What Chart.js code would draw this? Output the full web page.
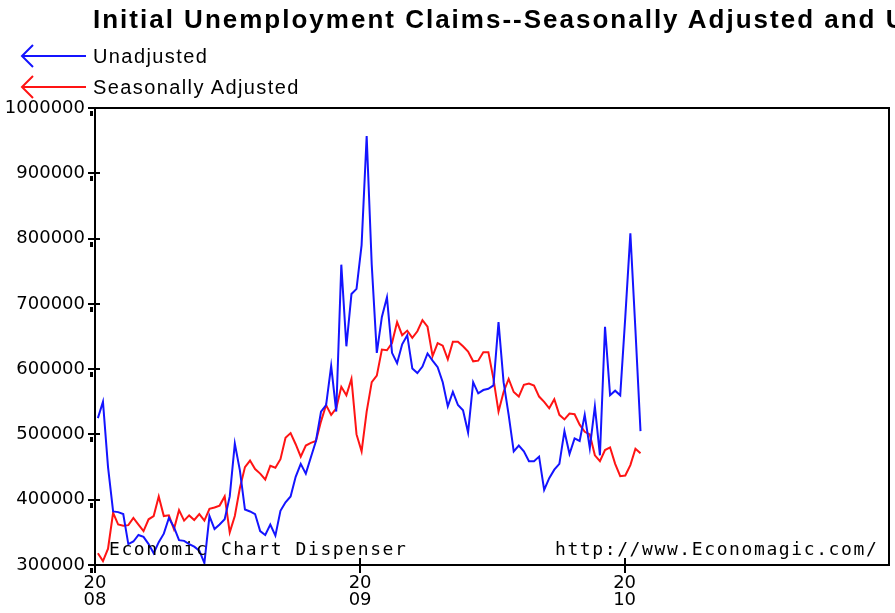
<!DOCTYPE html>
<html lang="en">
<head>
<meta charset="UTF-8">
<title>Initial Unemployment Claims--Seasonally Adjusted and Unadjusted</title>
<script src="https://cdn.jsdelivr.net/npm/chart.js"></script>
<style>
    body { margin: 0; background: #fff; overflow: hidden; }
    #wrap { position: relative; width: 895px; height: 613px; overflow: hidden; }
    #chart { position: absolute; left: 0; top: 0; }
    .title { position: absolute; left: 93px; top: 4px; font: bold 26px "Liberation Sans", Arial, sans-serif; letter-spacing: 2px; white-space: nowrap; color: #000; }
    .legend { position: absolute; left: 93px; font: 20px "Liberation Sans", Arial, sans-serif; letter-spacing: 1.4px; white-space: nowrap; color: #000; }
    .mark { position: absolute; top: 538px; font: 18px "DejaVu Sans Mono", monospace; letter-spacing: 1.6px; white-space: nowrap; color: #000; }
</style>
</head>
<body>
<div id="wrap">
    <canvas id="chart" width="895" height="613"></canvas>
    <div class="title">Initial Unemployment Claims--Seasonally Adjusted and Unadjusted</div>
    <div class="legend" style="top:45px">Unadjusted</div>
    <div class="legend" style="top:76px">Seasonally Adjusted</div>
    <div class="mark" style="left:109px">Economic Chart Dispenser</div>
    <div class="mark" style="left:555px">http://www.Economagic.com/</div>
</div>
<script>
// weekly initial claims, week ending Jan 5 2008 .. Jan 23 2010
const unadjusted = [
    525000, 550000, 450000, 382000, 381000, 378000, 332000, 336000, 346000, 343000,
    332000, 318000, 335000, 348000, 372000, 358000, 338000, 337000, 332000, 328000,
    322000, 303000, 375000, 355000, 362000, 370000, 405000, 486000, 445000, 385000,
    382000, 378000, 352000, 346000, 362000, 345000, 383000, 396000, 405000, 435000,
    455000, 440000, 465000, 490000, 535000, 545000, 605000, 535000, 760000, 635000,
    715000, 723000, 790000, 957000, 760000, 625000, 680000, 710000, 625000, 609000,
    638000, 652000, 601000, 594000, 604000, 624000, 613000, 603000, 580000, 543000,
    565000, 545000, 537000, 503000, 580000, 563000, 568000, 570000, 575000, 672000,
    580000, 530000, 474000, 483000, 474000, 459000, 459000, 466000, 415000, 433000,
    446000, 455000, 505000, 470000, 494000, 490000, 530000, 479000, 543000, 468000,
    665000, 560000, 567000, 560000, 680000, 808000, 660000, 505000
];
const adjusted = [
    318000, 306000, 325000, 380000, 362000, 360000, 361000, 372000, 362000, 352000,
    370000, 375000, 405000, 375000, 376000, 355000, 384000, 368000, 376000, 369000,
    378000, 368000, 386000, 388000, 391000, 405000, 350000, 375000, 418000, 450000,
    460000, 447000, 440000, 431000, 452000, 449000, 462000, 495000, 502000, 485000,
    466000, 483000, 487000, 490000, 520000, 545000, 530000, 540000, 573000, 560000,
    585000, 500000, 474000, 535000, 580000, 590000, 630000, 629000, 640000, 672000,
    652000, 659000, 648000, 658000, 675000, 665000, 620000, 640000, 636000, 615000,
    642000, 642000, 635000, 627000, 612000, 613000, 626000, 626000, 585000, 535000,
    565000, 585000, 565000, 558000, 576000, 578000, 575000, 558000, 550000, 540000,
    554000, 530000, 523000, 532000, 531000, 515000, 504000, 500000, 468000, 459000,
    476000, 480000, 455000, 436000, 437000, 453000, 478000, 471000
];
// Jan 1 of each year, in weeks from the first data week
const yearWeeks = [-0.57, 51.71, 103.86];
const yearLabels = [['20', '08'], ['20', '09'], ['20', '10']];
const yTicks = [300000, 400000, 500000, 600000, 700000, 800000, 900000, 1000000];

const blue = '#1414ff';
const red = '#ff1414';

const frame = {
    id: 'frame',
    afterDatasetsDraw(chart) {
        const { ctx, chartArea: a, scales } = chart;
        ctx.save();
        ctx.strokeStyle = '#000';
        ctx.fillStyle = '#000';
        ctx.lineWidth = 2;
        ctx.strokeRect(a.left, a.top, a.right - a.left, a.bottom - a.top);
        scales.y.ticks.forEach(t => {
            const y = Math.round(scales.y.getPixelForValue(t.value));
            ctx.beginPath();
            ctx.moveTo(a.left - 7, y);
            ctx.lineTo(a.left + 5, y);
            ctx.stroke();
            ctx.fillRect(a.left - 5, y + 3, 3, 5);
        });
        scales.x.ticks.forEach(t => {
            const x = Math.round(scales.x.getPixelForValue(t.value));
            ctx.beginPath();
            ctx.moveTo(x, a.bottom - 7);
            ctx.lineTo(x, a.bottom + 8);
            ctx.stroke();
        });
        // legend arrows
        [[56, blue], [87, red]].forEach(([y, c]) => {
            ctx.strokeStyle = c;
            ctx.beginPath();
            ctx.moveTo(86, y);
            ctx.lineTo(22, y);
            ctx.moveTo(33, y - 11);
            ctx.lineTo(22, y);
            ctx.lineTo(33, y + 11);
            ctx.stroke();
        });
        ctx.restore();
    }
};

Chart.defaults.font.family = '"DejaVu Sans", sans-serif';
Chart.defaults.color = '#000';

new Chart(document.getElementById('chart'), {
    type: 'line',
    data: {
        datasets: [{
            label: 'Unadjusted',
            data: unadjusted.map((v, i) => ({ x: i, y: v })),
            borderColor: blue,
            borderWidth: 2,
            pointRadius: 0,
            tension: 0
        }, {
            label: 'Seasonally Adjusted',
            data: adjusted.map((v, i) => ({ x: i, y: v })),
            borderColor: red,
            borderWidth: 2,
            pointRadius: 0,
            tension: 0
        }]
    },
    options: {
        responsive: false,
        animation: false,
        layout: { padding: { top: 108, right: 6, left: 0, bottom: 0 } },
        plugins: {
            legend: { display: false },
            tooltip: { enabled: false }
        },
        scales: {
            x: {
                type: 'linear',
                min: -0.57,
                max: 156,
                afterFit: s => { s.height = 48; },
                afterBuildTicks: s => { s.ticks = yearWeeks.map(v => ({ value: v })); },
                grid: { display: false, drawTicks: false },
                border: { display: false },
                ticks: {
                    autoSkip: false,
                    maxRotation: 0,
                    padding: 10,
                    font: { size: 18, lineHeight: 0.95 },
                    callback: (v, i) => yearLabels[i]
                }
            },
            y: {
                min: 300000,
                max: 1000000,
                afterFit: s => { s.width = 95; },
                afterBuildTicks: s => { s.ticks = yTicks.map(v => ({ value: v })); },
                grid: { display: false, drawTicks: false },
                border: { display: false },
                ticks: {
                    padding: 10,
                    font: { size: 18 },
                    callback: v => String(v)
                }
            }
        }
    },
    plugins: [frame]
});
</script>
</body>
</html>
